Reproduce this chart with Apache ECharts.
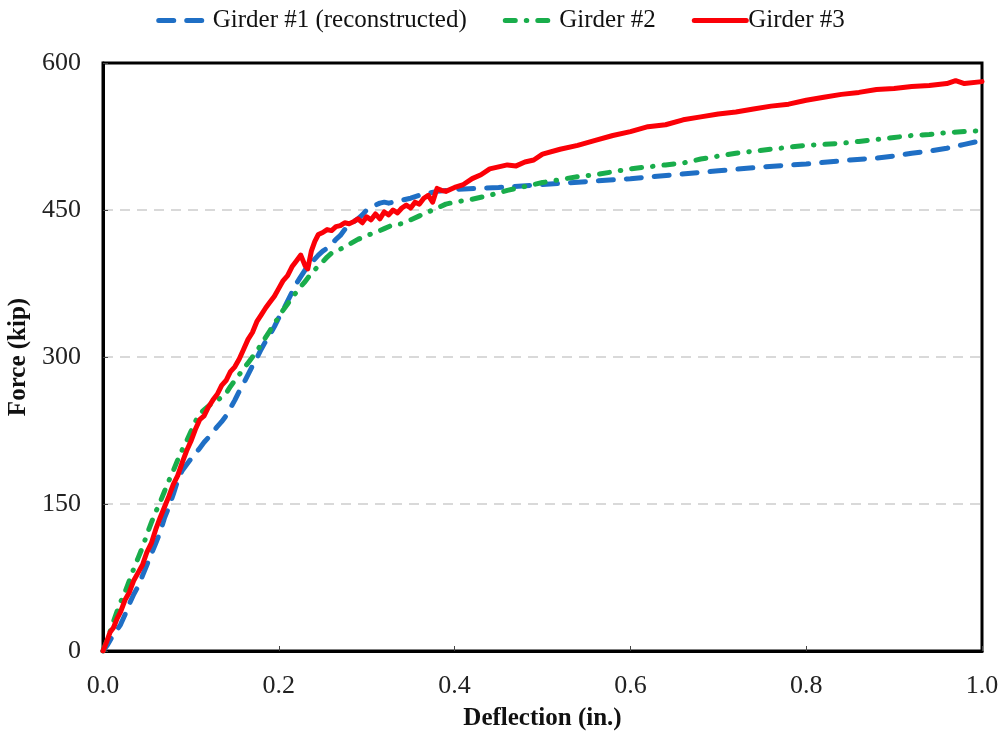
<!DOCTYPE html>
<html>
<head>
<meta charset="utf-8">
<title>Force–Deflection of Girders</title>
<script src="https://cdn.jsdelivr.net/npm/echarts@6/dist/echarts.min.js"></script>
<style>
  html, body { margin: 0; padding: 0; background: #fff; }
  #chart { width: 1001px; height: 732px; }
</style>
</head>
<body>
<div id="chart"></div>
<script>
// Axis ticks
const deflectionTicks = [0, 0.2, 0.4, 0.6, 0.8, 1.0];
const forceTicks = [0, 150, 300, 450, 600];

const seriesNames = ['Girder #1 (reconstructed)', 'Girder #2', 'Girder #3'];

// Girder #1 (reconstructed): [deflection (in.), force (kip)]
const girder1 = [
  [0, 0], [0.005, 6], [0.010, 14], [0.015, 20], [0.020, 27], [0.025, 37], [0.030, 48],
  [0.035, 58], [0.040, 66], [0.045, 77], [0.050, 88], [0.055, 99], [0.060, 110],
  [0.065, 121], [0.070, 136], [0.075, 147], [0.080, 160], [0.085, 174], [0.090, 184],
  [0.095, 190], [0.100, 196], [0.105, 201], [0.110, 207], [0.115, 213], [0.120, 218],
  [0.125, 223], [0.130, 229], [0.135, 234], [0.140, 240], [0.145, 248], [0.150, 256],
  [0.155, 265], [0.160, 273], [0.165, 282], [0.170, 291], [0.175, 299], [0.180, 308],
  [0.185, 316], [0.190, 323], [0.195, 331], [0.200, 340], [0.205, 348], [0.210, 357],
  [0.215, 366], [0.220, 375], [0.225, 382], [0.230, 389], [0.235, 395], [0.240, 399],
  [0.245, 404], [0.250, 408], [0.255, 411], [0.260, 415], [0.265, 420], [0.270, 424],
  [0.275, 430], [0.280, 434], [0.285, 438], [0.290, 441], [0.295, 445], [0.300, 450],
  [0.305, 452], [0.310, 455], [0.315, 457], [0.320, 458], [0.325, 457], [0.330, 458],
  [0.340, 460], [0.350, 462], [0.360, 465], [0.370, 467], [0.380, 469], [0.400, 471],
  [0.450, 473], [0.500, 476], [0.550, 479], [0.600, 482], [0.650, 486], [0.700, 490],
  [0.750, 494], [0.800, 497], [0.850, 501], [0.880, 503], [0.900, 505], [0.920, 508],
  [0.940, 510], [0.960, 513], [0.980, 517], [1.000, 521]
];

// Girder #2
const girder2 = [
  [0, 0], [0.005, 12], [0.010, 25], [0.015, 38], [0.020, 50], [0.025, 60], [0.030, 72],
  [0.035, 84], [0.040, 95], [0.045, 106], [0.050, 119], [0.055, 131], [0.060, 142],
  [0.065, 152], [0.070, 163], [0.075, 174], [0.080, 184], [0.085, 195], [0.090, 205],
  [0.095, 214], [0.100, 224], [0.105, 234], [0.110, 242], [0.115, 246], [0.120, 250],
  [0.125, 253], [0.130, 256], [0.135, 259], [0.140, 263], [0.145, 270], [0.150, 276],
  [0.155, 282], [0.160, 288], [0.165, 294], [0.170, 300], [0.175, 306], [0.180, 313],
  [0.185, 320], [0.190, 327], [0.195, 334], [0.200, 341], [0.205, 348], [0.210, 354],
  [0.215, 361], [0.220, 366], [0.225, 372], [0.230, 377], [0.235, 383], [0.240, 388],
  [0.245, 393], [0.250, 397], [0.255, 402], [0.260, 406], [0.265, 408], [0.270, 410],
  [0.280, 415], [0.290, 420], [0.300, 424], [0.310, 427], [0.320, 431], [0.330, 435],
  [0.340, 436], [0.350, 440], [0.360, 444], [0.370, 448], [0.380, 452], [0.390, 456],
  [0.400, 458], [0.420, 461], [0.440, 465], [0.460, 470], [0.480, 474], [0.500, 478],
  [0.520, 481], [0.540, 484], [0.560, 486], [0.580, 489], [0.600, 492], [0.620, 494],
  [0.640, 496], [0.660, 498], [0.680, 502], [0.700, 505], [0.720, 508], [0.740, 510],
  [0.760, 512], [0.780, 514], [0.800, 516], [0.820, 517], [0.840, 518], [0.860, 520],
  [0.880, 522], [0.900, 524], [0.920, 526], [0.940, 527], [0.960, 529], [0.980, 530],
  [1.000, 531]
];

// Girder #3
const girder3 = [
  [0, 0], [0.004, 9], [0.008, 19], [0.012, 24], [0.016, 33], [0.020, 40], [0.025, 52],
  [0.030, 60], [0.035, 72], [0.040, 80], [0.045, 88], [0.050, 101], [0.055, 110],
  [0.060, 124], [0.065, 136], [0.070, 147], [0.075, 158], [0.080, 170], [0.085, 179],
  [0.090, 192], [0.095, 204], [0.100, 214], [0.105, 226], [0.110, 236], [0.115, 240],
  [0.120, 249], [0.125, 256], [0.130, 262], [0.135, 271], [0.140, 276], [0.145, 285],
  [0.150, 290], [0.155, 298], [0.160, 308], [0.165, 318], [0.170, 325], [0.175, 336],
  [0.180, 343], [0.185, 350], [0.190, 356], [0.195, 362], [0.200, 370], [0.205, 378],
  [0.210, 383], [0.215, 392], [0.220, 398], [0.225, 404], [0.230, 393], [0.233, 390],
  [0.237, 408], [0.241, 418], [0.245, 425], [0.250, 427], [0.255, 430], [0.260, 429],
  [0.265, 433], [0.270, 434], [0.275, 437], [0.280, 436], [0.285, 438], [0.290, 441],
  [0.295, 437], [0.300, 443], [0.305, 440], [0.310, 446], [0.315, 441], [0.320, 448],
  [0.325, 445], [0.330, 450], [0.335, 447], [0.340, 452], [0.345, 455], [0.350, 452],
  [0.355, 458], [0.360, 456], [0.365, 462], [0.370, 465], [0.375, 458], [0.380, 472],
  [0.385, 470], [0.390, 469], [0.400, 473], [0.410, 476], [0.420, 482], [0.430, 486],
  [0.440, 492], [0.450, 494], [0.460, 496], [0.470, 495], [0.480, 499], [0.490, 501],
  [0.500, 507], [0.520, 512], [0.540, 516], [0.560, 521], [0.580, 526], [0.600, 530],
  [0.620, 535], [0.640, 537], [0.660, 542], [0.680, 545], [0.700, 548], [0.720, 550],
  [0.740, 553], [0.760, 556], [0.780, 558], [0.800, 562], [0.820, 565], [0.840, 568],
  [0.860, 570], [0.880, 573], [0.900, 574], [0.920, 576], [0.940, 577], [0.960, 579],
  [0.970, 582], [0.980, 579], [1.000, 581]
];

const serif = '"Liberation Serif", "Times New Roman", serif';

const chart = echarts.init(document.getElementById('chart'), null, { renderer: 'canvas' });

function lineSeries(name, data, color, dash) {
  return {
    name: name,
    type: 'line',
    data: data,
    showSymbol: false,
    symbol: 'none',
    smooth: false,
    animation: false,
    lineStyle: { color: color, width: 5, type: dash, cap: 'round', join: 'round' },
    itemStyle: { color: color }
  };
}

chart.setOption({
  backgroundColor: '#fff',
  animation: false,
  legend: {
    top: 3,
    left: 'center',
    itemWidth: 52,
    itemHeight: 12,
    itemGap: 36,
    itemStyle: { opacity: 0 },
    lineStyle: { width: 5 },
    textStyle: { fontFamily: serif, fontSize: 25, color: '#111', padding: [0, 0, 0, -3] },
    data: seriesNames
  },
  grid: {
    left: 103, right: 19, top: 63, bottom: 81,
    outerBoundsMode: 'none',
    containLabel: false,
    show: true, borderColor: '#000', borderWidth: 3, backgroundColor: '#fff'
  },
  xAxis: {
    type: 'value',
    min: deflectionTicks[0],
    max: deflectionTicks[deflectionTicks.length - 1],
    interval: deflectionTicks[1] - deflectionTicks[0],
    name: 'Deflection (in.)',
    nameLocation: 'middle',
    nameGap: 55,
    nameTextStyle: { fontFamily: serif, fontSize: 25, fontWeight: 'bold', color: '#111' },
    axisLine: { show: true, lineStyle: { color: '#000', width: 3 } },
    axisTick: { show: true, inside: true, length: 5, lineStyle: { color: '#444', width: 1 } },
    axisLabel: {
      fontFamily: serif, fontSize: 26, color: '#222', margin: 22,
      formatter: v => v.toFixed(1)
    },
    splitLine: { show: false }
  },
  yAxis: {
    type: 'value',
    min: forceTicks[0],
    max: forceTicks[forceTicks.length - 1],
    interval: forceTicks[1] - forceTicks[0],
    name: 'Force (kip)',
    nameLocation: 'middle',
    nameGap: 68,
    nameTextStyle: { fontFamily: serif, fontSize: 25, fontWeight: 'bold', color: '#111' },
    axisLine: { show: true, lineStyle: { color: '#000', width: 3 } },
    axisTick: { show: true, inside: true, length: 5, lineStyle: { color: '#444', width: 1 } },
    axisLabel: { fontFamily: serif, fontSize: 26, color: '#222', margin: 22 },
    splitLine: {
      show: true, showMinLine: false, showMaxLine: false,
      lineStyle: { color: '#d9d9d9', width: 2, type: [10, 7] }
    }
  },
  series: [
    lineSeries(seriesNames[0], girder1, '#1f6fc5', [15, 13]),
    lineSeries(seriesNames[1], girder2, '#19ad4b', [10, 11, 0.5, 11]),
    lineSeries(seriesNames[2], girder3, '#fb0007', 'solid')
  ]
});
</script>
</body>
</html>
